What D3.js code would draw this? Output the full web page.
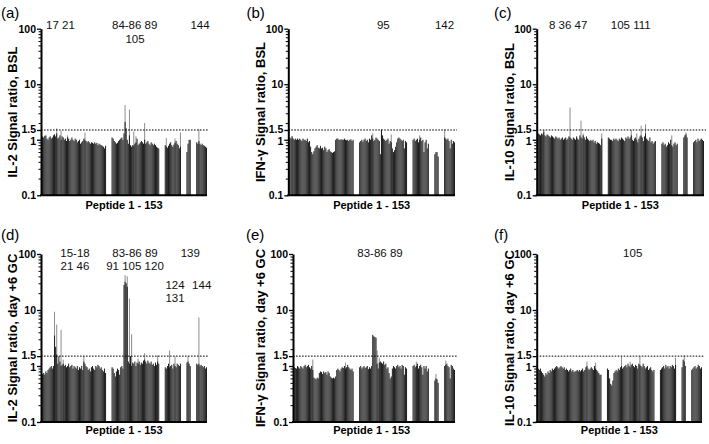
<!DOCTYPE html>
<html><head><meta charset="utf-8">
<script src="https://cdn.jsdelivr.net/npm/d3@7"></script>
<style>body{margin:0;background:#fff}svg{display:block;font-family:"Liberation Sans",Arial,Helvetica,sans-serif}</style>
</head><body><svg id="chart" width="709" height="444"></svg>
<script>
// ---------- data ----------
const peptides = d3.range(1, 154);                 // peptide 1 - 153
const gaps = [[61,65],[110,114],[130,134],[139,143]]; // peptides without bars
const yTickValues = [0.1, 1, 1.5, 10, 100];
const yTickLabels = ["0.1", "1", "1.5", "10", "100"];
const yMinorTicks = [0.2,0.3,0.4,0.5,0.6,0.7,0.8,0.9,2,3,4,5,6,7,8,9,20,30,40,50,60,70,80,90];
const threshold = 1.5;
const xTitle = "Peptide 1 - 153";
const panelLetters = ["(a)","(b)","(c)","(d)","(e)","(f)"];
const yTitles = ["IL-2 Signal ratio, BSL","IFN-\u03b3 Signal ratio, BSL","IL-10 Signal ratio, BSL",
                 "IL-2 Signal ratio, day +6 GC","IFN-\u03b3 Signal ratio, day +6 GC","IL-10 Signal ratio, day +6 GC"];
const notesA = ["17 21","84-86 89","105","144"];
const notesB = ["95","142"];
const notesC = ["8 36 47","105 111"];
const notesD = ["15-18","21 46","83-86 89","91 105 120","139","124","131","144"];
const notesE = ["83-86 89"];
const notesF = ["105"];

// signal ratio per measured peptide (dark bars)
const il2Bsl = [
1.12,1.15,1.1,1.18,1.2,1.05,1.0,1.1,1.15,1.05, 1.1,1.2,1.25,1.15,1.3,1.05,1.1,1.2,1.0,1.15,
1.1,1.0,1.05,0.95,1.1,1.05,0.95,1.0,1.1,1.0, 0.95,1.05,1.0,0.9,0.95,1.0,0.85,0.9,0.95,1.05,
1.0,0.95,0.9,0.95,0.9,0.85,0.9,0.88,0.85,0.9, 0.85,0.88,0.8,0.85,0.82,0.8,0.78,0.75,0.7,0.78,
1.1,1.05,0.95,0.9,0.85,0.88,0.95,1.0,1.05,1.1, 1.0,1.3,2.1,1.6,1.0,0.85,1.2,0.8,0.75,0.8,
0.78,0.85,0.9,1.05,0.8,0.85,0.9,0.95,0.9,0.85, 1.0,0.85,0.9,0.95,0.85,0.8,0.9,0.85,0.8,0.85,0.8,0.75,0.72,0.7,
0.8,0.75,0.72,0.78,0.85,0.9,0.8,0.75,0.82,0.88,0.95,0.85,0.8,0.7,0.75,
0.6,0.85,1.0,1.0,
0.9,0.85,0.95,0.85,0.8,0.85,0.8,0.78,0.75,0.72];
const ifngBsl = [
1.05,1.1,1.05,1.15,1.05,1.0,1.05,1.0,1.05,1.0, 1.05,1.0,0.95,1.05,1.0,1.0,0.95,1.05,0.9,0.95,
0.75,0.6,0.55,0.62,0.7,0.75,0.8,0.72,0.7,0.78, 0.7,0.72,0.65,0.75,0.7,0.6,0.65,0.68,0.62,0.6,
0.58,0.6,0.62,1.0,1.05,1.05,1.0,1.0,1.02,1.0, 1.0,1.05,1.0,0.98,1.0,0.95,1.0,1.02,0.95,1.0,
0.9,0.95,1.0,0.92,1.0,1.05,0.95,1.0,0.9,1.05, 1.0,1.2,1.05,0.95,1.0,1.1,1.05,1.0,0.95,0.55,
1.5,1.2,1.05,1.0,0.95,1.0,1.05,0.85,0.95,0.9, 0.7,0.6,0.65,0.75,0.9,1.05,1.1,1.05,1.0,0.95,1.0,0.7,0.95,0.9,
1.0,1.05,0.95,1.0,1.05,0.9,1.0,1.1,0.95,1.0,0.6,0.9,1.0,0.7,0.85,
0.55,0.6,0.6,0.5,
1.1,1.05,1.0,1.05,0.95,0.7,1.0,0.85,0.95,0.9];
const il10Bsl = [
1.2,1.3,1.25,1.2,1.3,1.25,1.4,1.2,1.15,1.25, 1.2,1.15,1.1,1.2,1.15,1.1,1.05,1.15,1.1,1.05,
1.1,1.0,1.05,1.1,1.0,1.05,1.1,1.0,1.05,1.15, 1.1,1.05,1.0,1.1,1.05,1.0,1.15,1.05,1.0,1.2,
1.1,1.05,1.2,1.1,1.0,1.15,1.05,1.0,0.95,1.0, 0.95,1.0,0.9,0.95,0.85,0.9,0.88,0.85,0.8,1.05,
1.1,1.05,1.0,1.0,0.95,1.05,1.0,1.05,1.0,0.95, 1.05,1.0,1.1,1.05,1.0,0.95,1.1,1.05,1.15,1.05,
1.1,1.2,1.0,0.95,1.05,1.1,1.0,0.9,1.05,1.15, 1.2,1.1,0.95,1.15,1.3,1.05,1.0,0.95,1.1,0.9,0.95,0.85,0.9,0.95,
0.85,0.9,0.8,0.85,0.75,0.8,0.9,0.85,1.0,0.8,0.75,0.85,0.9,0.8,0.85,
1.1,1.2,1.25,1.1,
0.9,0.95,1.0,0.9,1.05,0.95,1.0,1.05,1.0,0.95];
const il2Gc = [
0.7,0.72,0.75,0.7,0.8,0.75,0.85,0.9,0.95,1.0, 0.9,1.0,3.5,2.2,1.6,1.1,1.5,1.2,1.0,1.05,
1.1,1.0,1.05,0.95,1.0,1.1,0.95,1.0,1.05,0.9, 1.0,0.95,0.9,1.0,0.85,0.95,0.9,1.0,0.85,1.2,
1.1,1.0,0.95,0.85,0.9,0.8,0.95,1.0,0.9,0.85, 1.0,0.95,1.05,1.0,0.9,0.95,0.85,0.8,0.9,0.75,
0.95,0.9,0.75,0.65,0.8,0.9,0.85,0.7,0.95,1.0, 0.9,28,32,30,26,1.2,1.1,1.5,1.0,1.15,
1.1,1.2,1.0,1.15,1.1,1.2,1.05,1.15,1.1,1.25, 1.3,1.2,1.1,1.25,1.15,1.1,1.2,1.05,1.1,1.0,1.15,1.05,1.2,1.1,
0.95,0.9,1.0,1.1,0.95,1.0,1.05,0.9,1.1,1.0,0.95,1.1,1.05,1.0,1.1,
1.15,1.2,1.1,1.0,
1.1,1.05,1.1,1.0,1.05,1.0,0.95,1.0,0.9,0.95];
const ifngGc = [
0.9,0.95,0.9,0.95,0.9,0.95,0.92,0.9,1.0,0.95, 0.9,1.0,0.95,0.9,1.0,1.05,0.95,1.0,1.05,0.95,
0.9,1.0,0.85,0.62,0.6,0.58,0.62,0.6,0.75,0.8, 0.78,0.72,0.8,0.75,0.78,0.7,0.8,0.75,0.65,0.62,
0.6,0.62,0.6,0.65,0.85,0.9,0.85,0.8,0.9,0.95, 0.92,1.0,0.9,0.95,1.05,0.95,0.9,0.85,0.9,0.8,
0.95,1.0,0.9,0.95,1.0,0.92,0.95,1.0,0.88,0.95, 0.9,1.0,3.6,3.4,3.3,3.2,1.1,0.9,1.15,1.2,
1.15,1.1,1.2,1.05,1.1,0.9,0.95,0.75,0.6,0.65, 0.9,1.0,0.95,0.9,1.0,1.05,0.95,1.0,0.9,1.05,1.0,0.7,0.95,0.9,
1.0,1.05,0.95,1.0,1.1,0.9,1.0,1.05,0.95,0.7,1.0,0.9,1.0,0.8,0.9,
0.55,0.6,0.58,0.5,
1.0,1.05,1.1,1.0,0.95,0.6,1.05,1.0,0.9,0.85];
const il10Gc = [
0.95,0.9,0.85,0.9,0.8,0.75,0.7,0.65,0.75,0.7, 0.8,0.75,0.85,0.8,0.9,0.85,0.9,0.95,1.0,0.95,
0.9,0.95,1.0,0.95,0.9,0.95,0.85,0.9,0.85,0.8, 0.85,0.9,0.8,0.85,0.78,0.8,0.82,0.85,0.8,0.85,
0.8,0.85,0.9,0.8,0.85,0.95,1.0,0.9,0.85,0.9, 0.95,0.9,0.85,1.0,0.9,0.85,0.8,0.75,0.7,0.7,
0.9,0.85,0.6,0.48,0.45,0.55,0.75,0.8,0.85,0.8, 0.9,0.85,0.95,1.0,0.9,0.95,1.0,1.05,0.95,1.1,
1.0,0.95,1.05,1.1,1.0,0.95,1.05,1.0,0.9,1.1, 1.05,1.0,0.95,1.1,1.0,0.9,0.95,1.0,0.85,0.9,0.95,0.85,0.8,0.85,
0.85,0.9,0.95,1.0,0.9,1.05,0.95,1.0,0.9,1.0,0.95,1.05,1.0,0.9,1.05,
0.95,1.3,1.2,1.0,
0.85,0.9,0.95,1.0,0.9,0.95,1.05,1.0,0.9,0.95];

// highest replicate where it rises above the bar (light grey) : [peptide, ratio]
const il2BslMax = [[13,1.25],[15,1.6],[19,1.45],[25,1.2],[41,1.35],[78,4.2],[82,3.5],[86,1.4],[88,1.15],[96,2.0],[116,1.08],[124,1.05],[129,1.35],[146,1.55]];
const ifngBslMax = [[4,1.15],[78,1.3],[86,1.55],[95,1.25],[121,1.2],[144,1.55]];
const il10BslMax = [[7,1.5],[31,3.8],[41,2.2],[43,1.3],[60,1.3],[87,1.5],[92,1.3],[96,1.8],[100,1.9],[124,1.2],[137,1.35]];
const il2GcMax = [[13,9.3],[15,5.5],[19,4.4],[21,1.3],[40,1.5],[78,42],[80,40],[82,16],[84,3.7],[90,1.35],[96,1.7],[108,1.55],[119,1.9],[124,1.5],[136,1.5],[146,7.4]];
const ifngGcMax = [[23,1.3],[53,1.15],[82,1.9],[84,1.4],[118,1.2],[136,0.72],[145,1.25]];
const il10GcMax = [[47,1.2],[55,1.15],[79,1.5],[87,1.2],[96,1.5],[129,1.4],[137,1.55]];

// ---------- layout (positions only) ----------
const layout = [
  {x0:41,   x1:207, ax:41,    y0:28.7, y1:195.3, lx:1,     ly:17.5, tx:17,  xt:209,
   notes:[[60.5,29],[134.7,29],[135,42.5],[200,29]]},
  {x0:288.3,x1:455, ax:288.3, y0:28.7, y1:195.3, lx:246.5, ly:17.5, tx:265, xt:209,
   notes:[[383.3,29],[444.5,29]]},
  {x0:536.7,x1:704, ax:536.7, y0:28.7, y1:195.3, lx:494,   ly:17.5, tx:514, xt:209,
   notes:[[568.2,29],[630.7,29]]},
  {x0:41,   x1:207, ax:41,    y0:254,  y1:422,   lx:1,     ly:240,  tx:16.5,xt:434,
   notes:[[75,256.5],[75,269.5],[135,256.5],[135,269.5],[190.3,256.5],[175,288.5],[175,301.5],[201.7,288.5]]},
  {x0:288.3,x1:455, ax:293,   y0:254,  y1:422,   lx:246,   ly:240,  tx:265, xt:434,
   notes:[[380,256.5]]},
  {x0:536.7,x1:702, ax:536.7, y0:254,  y1:422,   lx:494,   ly:240,  tx:514, xt:434,
   notes:[[632.7,256.5]]}
];

const panels = [
  {values:il2Bsl, maxima:il2BslMax, notes:notesA},
  {values:ifngBsl, maxima:ifngBslMax, notes:notesB},
  {values:il10Bsl, maxima:il10BslMax, notes:notesC},
  {values:il2Gc, maxima:il2GcMax, notes:notesD},
  {values:ifngGc, maxima:ifngGcMax, notes:notesE},
  {values:il10Gc, maxima:il10GcMax, notes:notesF}
];

// ---------- drawing ----------
const svg = d3.select("#chart");
const measured = peptides.filter(p => !gaps.some(([a,b]) => p >= a && p <= b));
const defs = svg.append("defs");
const labelShift = {"1.5": -1.2, "1": 1};

panels.forEach((pnl, i) => {
  const L = layout[i];
  const g = svg.append("g");
  const x = d3.scaleBand().domain(peptides).range([L.x0, L.x1]).paddingInner(0.06).paddingOuter(0);
  const y = d3.scaleLog().domain([0.1, 100]).range([L.y1, L.y0]);
  const rows = measured.map((p, k) => ({p, v: pnl.values[k]}));

  defs.append("clipPath").attr("id", "clip" + i)
    .append("rect").attr("x", L.ax).attr("y", L.y0 - 30).attr("width", L.x1 - L.ax + 4).attr("height", L.y1 - L.y0 + 30);
  const plot = g.append("g").attr("clip-path", `url(#clip${i})`);

  plot.selectAll("rect.max").data(pnl.maxima).join("rect")
    .attr("class", "max")
    .attr("x", d => x(d[0])).attr("width", x.bandwidth())
    .attr("y", d => y(d[1])).attr("height", d => y(0.1) - y(d[1]))
    .attr("fill", "#8f8f8f");

  plot.selectAll("rect.bar").data(rows).join("rect")
    .attr("class", "bar")
    .attr("x", d => x(d.p)).attr("width", x.bandwidth())
    .attr("y", d => y(d.v)).attr("height", d => y(0.1) - y(d.v))
    .attr("fill", "#1f1f1f");

  // threshold
  g.append("line").attr("x1", L.ax).attr("x2", L.x1 + 2)
    .attr("y1", y(threshold)).attr("y2", y(threshold))
    .attr("stroke", "#000").attr("stroke-width", 1).attr("stroke-dasharray", "1.6,1.4");

  // x axis line
  g.append("line").attr("x1", L.ax - 1).attr("x2", L.x1)
    .attr("y1", y(0.1)).attr("y2", y(0.1))
    .attr("stroke", "#000").attr("stroke-width", 2);

  // y axis
  const minor = g.append("g").attr("transform", `translate(${L.ax},0)`)
    .call(d3.axisLeft(y).tickValues(yMinorTicks).tickFormat("").tickSize(2.5).tickSizeOuter(0));
  minor.select(".domain").remove();
  minor.selectAll("line").attr("stroke-width", 1);

  const major = g.append("g").attr("transform", `translate(${L.ax},0)`)
    .call(d3.axisLeft(y).tickValues(yTickValues).tickFormat((d, k) => yTickLabels[k])
      .tickSize(4).tickSizeOuter(0).tickPadding(1));
  major.select(".domain").attr("stroke-width", 2);
  major.selectAll("line").attr("stroke-width", 1.3);
  major.selectAll("text").attr("font-size", 10.5).attr("font-weight", "bold")
    .attr("fill", "#000").attr("font-family", "Liberation Sans, Arial, sans-serif")
    .attr("y", function() { return labelShift[this.textContent] || 0; });

  // titles
  g.append("text").attr("transform", `translate(${L.tx},${(L.y0 + L.y1) / 2}) rotate(-90)`)
    .attr("text-anchor", "middle").attr("font-size", 13).attr("font-weight", "bold")
    .text(yTitles[i]);
  g.append("text").attr("x", (L.x0 + L.x1) / 2).attr("y", L.xt)
    .attr("text-anchor", "middle").attr("font-size", 11).attr("font-weight", "bold")
    .text(xTitle);
  g.append("text").attr("x", L.lx).attr("y", L.ly).attr("font-size", 15).text(panelLetters[i]);

  // peptide annotations
  pnl.notes.forEach((t, k) => {
    g.append("text").attr("x", L.notes[k][0]).attr("y", L.notes[k][1])
      .attr("text-anchor", "middle").attr("font-size", 11.5).attr("fill", "#111").text(t);
  });
});
</script></body></html>
